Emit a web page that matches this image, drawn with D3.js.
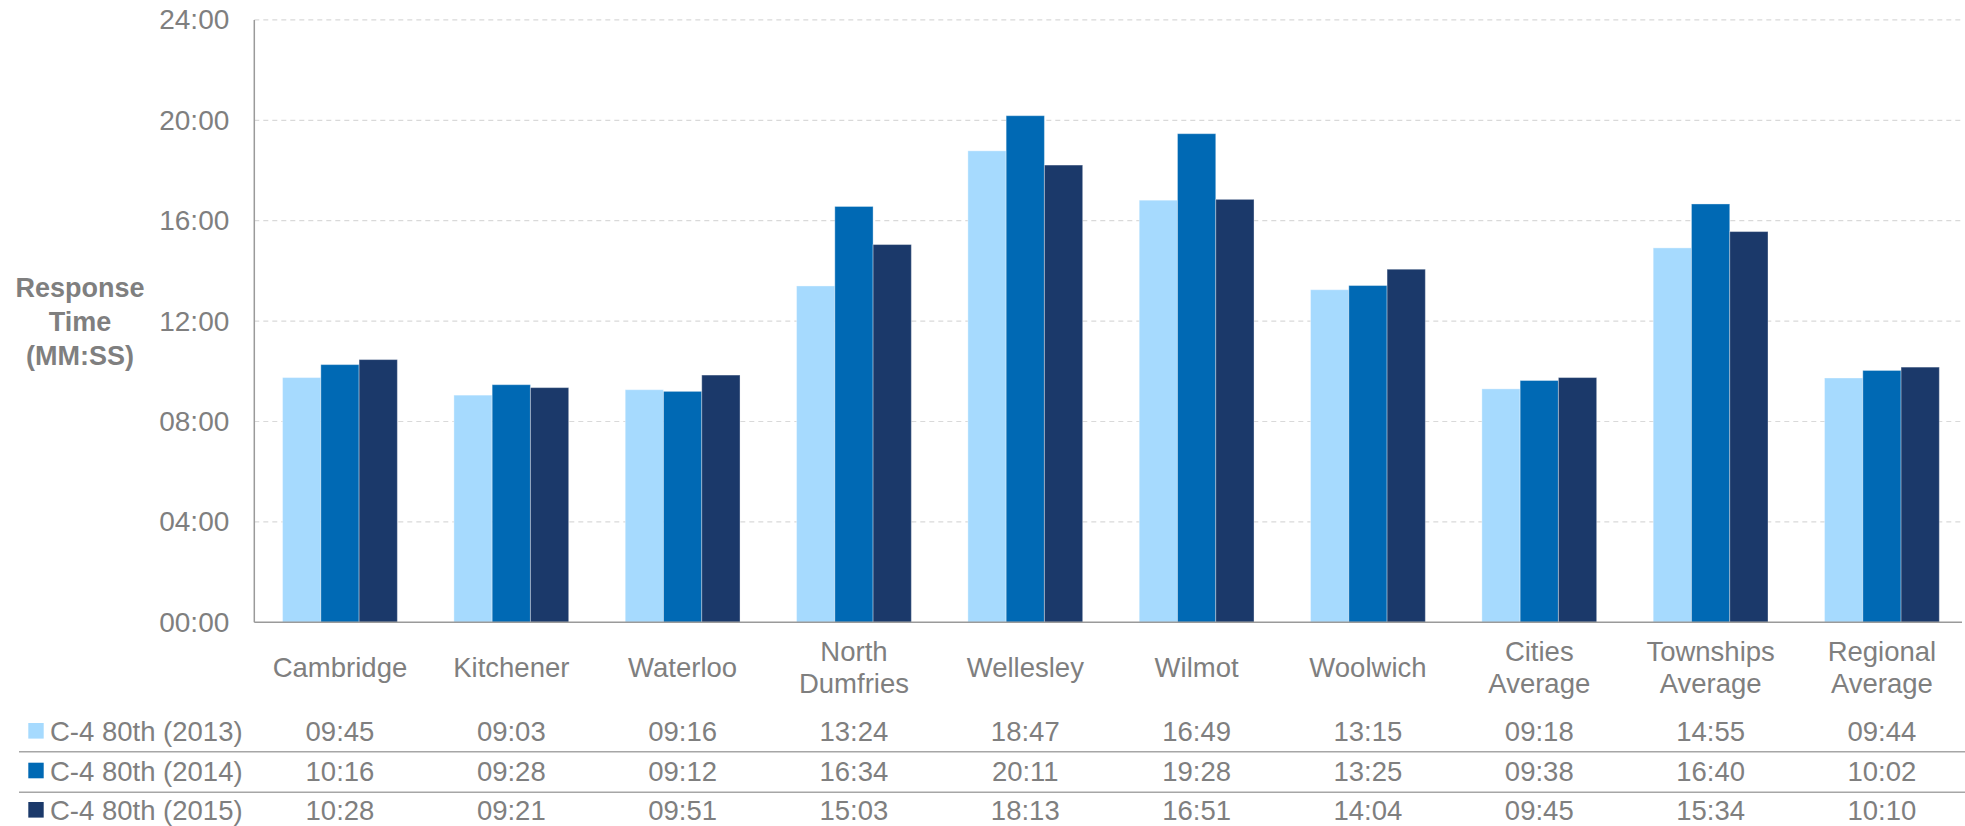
<!DOCTYPE html>
<html>
<head>
<meta charset="utf-8">
<script src="https://cdn.jsdelivr.net/npm/d3@7"></script>
<style>
  html, body { margin: 0; padding: 0; background: #fff; }
  svg { display: block; font-family: "Liberation Sans", Arial, Helvetica, sans-serif; }
</style>
</head>
<body>
<svg id="chart" width="1965" height="826"></svg>
<script>
// Region categories (multi-word names wrap onto two lines)
const categories = ["Cambridge", "Kitchener", "Waterloo", "North Dumfries", "Wellesley",
  "Wilmot", "Woolwich", "Cities Average", "Townships Average", "Regional Average"];

// Series names
const seriesNames = ["C-4 80th (2013)", "C-4 80th (2014)", "C-4 80th (2015)"];

// 80th percentile response times, MM:SS
const values2013 = ["09:45", "09:03", "09:16", "13:24", "18:47", "16:49", "13:15", "09:18", "14:55", "09:44"];
const values2014 = ["10:16", "09:28", "09:12", "16:34", "20:11", "19:28", "13:25", "09:38", "16:40", "10:02"];
const values2015 = ["10:28", "09:21", "09:51", "15:03", "18:13", "16:51", "14:04", "09:45", "15:34", "10:10"];

// Y axis tick labels, MM:SS
const yTickLabels = ["00:00", "04:00", "08:00", "12:00", "16:00", "20:00", "24:00"];

const seriesColors = ["#A6DAFE", "#0069B4", "#1B396A"];

const toSeconds = s => { const [m, sec] = s.split(":").map(Number); return m * 60 + sec; };
const fmt = v => String(Math.floor(v / 60)).padStart(2, "0") + ":" + String(v % 60).padStart(2, "0");

const seriesValues = [values2013, values2014, values2015];
const series = seriesNames.map((name, i) => ({
  name, color: seriesColors[i], labels: seriesValues[i], values: seriesValues[i].map(toSeconds)
}));

const yTicks = yTickLabels.map(toSeconds);

const svg = d3.select("#chart");
const textColor = "#7F7F7F";

const plotLeft = 254.3, bandRight = 1967.6, plotRight = 1962, plotTop = 19.9, plotBottom = 622.3;

const x = d3.scaleBand().domain(categories).range([plotLeft, bandRight]).paddingInner(0.33).paddingOuter(0.165);
const xs = d3.scaleBand().domain(seriesNames).range([0, x.bandwidth()]);
const y = d3.scaleLinear().domain([0, d3.max(yTicks)]).range([plotBottom, plotTop]);

// Dashed horizontal gridlines
svg.append("g")
  .selectAll("line")
  .data(yTicks.filter(t => t > 0))
  .join("line")
  .attr("x1", plotLeft).attr("x2", plotRight)
  .attr("y1", d => y(d)).attr("y2", d => y(d))
  .attr("stroke", "#D9D9D9").attr("stroke-width", 1.2)
  .attr("stroke-dasharray", "5,4");

// Y axis labels
const yAxis = d3.axisLeft(y).tickValues(yTicks).tickFormat(fmt).tickSize(0).tickPadding(25);
const gy = svg.append("g").attr("transform", `translate(${plotLeft},0)`).call(yAxis);
gy.select(".domain").remove();
gy.selectAll("text")
  .attr("fill", textColor)
  .style("font-size", "28px")
  .style("font-family", "'Liberation Sans', Arial, sans-serif");

// Bars
const groups = svg.append("g")
  .selectAll("g")
  .data(series)
  .join("g")
  .attr("fill", d => d.color);

groups.selectAll("rect")
  .data(s => s.values.map((v, i) => ({ cat: categories[i], v, name: s.name })))
  .join("rect")
  .attr("x", d => x(d.cat) + xs(d.name))
  .attr("width", xs.bandwidth())
  .attr("y", d => y(d.v))
  .attr("height", d => y(0) - y(d.v))
  .attr("stroke", "rgba(255,255,255,0.35)")
  .attr("stroke-width", 1);

// Axis lines
svg.append("line")
  .attr("x1", plotLeft).attr("x2", plotLeft).attr("y1", plotTop).attr("y2", plotBottom)
  .attr("stroke", "#9A9A9A").attr("stroke-width", 1.5);
svg.append("line")
  .attr("x1", plotLeft).attr("x2", plotRight).attr("y1", plotBottom).attr("y2", plotBottom)
  .attr("stroke", "#9A9A9A").attr("stroke-width", 1.5);

// Category labels
const xAxis = d3.axisBottom(x).tickSize(0).tickFormat("");
const gx = svg.append("g").attr("transform", `translate(0,${plotBottom})`).call(xAxis);
gx.select(".domain").remove();
gx.selectAll(".tick").each(function (d) {
  const lines = d.split(" ");
  const t = d3.select(this).append("text")
    .attr("text-anchor", "middle")
    .attr("fill", textColor)
    .style("font-size", "27.5px");
  const firstBaseline = lines.length === 1 ? 55 : 38.5;
  lines.forEach((ln, i) => {
    t.append("tspan").attr("x", 0).attr("y", firstBaseline + i * 32).text(ln);
  });
});

// Y axis title
const title = svg.append("text")
  .attr("text-anchor", "middle")
  .attr("fill", textColor)
  .style("font-size", "27px")
  .style("font-weight", "bold");
["Response", "Time", "(MM:SS)"].forEach((ln, i) => {
  title.append("tspan").attr("x", 80).attr("y", 297 + i * 34).text(ln);
});

// Data table beneath the chart
const rowBaselines = [741, 780.7, 820];
const table = svg.append("g");

// Row separators
table.selectAll("line")
  .data([751.7, 792.3])
  .join("line")
  .attr("x1", 19).attr("x2", 1965)
  .attr("y1", d => d).attr("y2", d => d)
  .attr("stroke", "#A6A6A6").attr("stroke-width", 1.5);

const rows = table.selectAll("g.row")
  .data(series)
  .join("g")
  .attr("class", "row")
  .attr("transform", (d, i) => `translate(0,${rowBaselines[i]})`);

rows.append("rect")
  .attr("x", 28.3).attr("y", -18).attr("width", 15.4).attr("height", 15.6)
  .attr("fill", d => d.color);

rows.append("text")
  .attr("x", 50).attr("y", 0)
  .attr("fill", textColor)
  .style("font-size", "27.5px")
  .text(d => d.name);

rows.selectAll("text.val")
  .data(s => s.values.map((v, i) => ({ cat: categories[i], v })))
  .join("text")
  .attr("class", "val")
  .attr("x", d => x(d.cat) + x.bandwidth() / 2)
  .attr("y", 0)
  .attr("text-anchor", "middle")
  .attr("fill", textColor)
  .style("font-size", "27.5px")
  .text(d => fmt(d.v));
</script>
</body>
</html>
